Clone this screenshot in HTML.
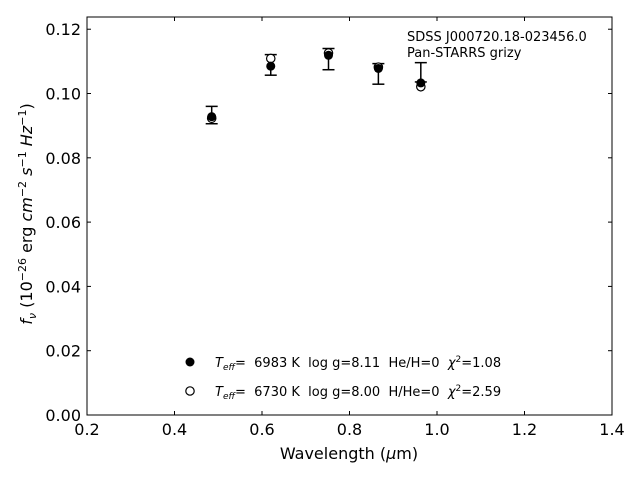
<!DOCTYPE html>
<html><head><meta charset="utf-8"><style>
body{margin:0;background:#fff}
svg text{font-family:"DejaVu Sans","Liberation Sans",sans-serif;fill:#000}
.pre{white-space:pre}
</style></head><body>
<svg id="chart" width="640" height="480" xmlns="http://www.w3.org/2000/svg">
<rect x="87" y="17" width="525" height="398" fill="none" stroke="#000" stroke-width="1"/>
<g id="ticks"></g>
<g id="marks"></g>
<text x="407" y="41" font-size="13">SDSS J000720.18-023456.0</text>
<text x="407" y="57" font-size="13">Pan-STARRS grizy</text>
<text x="349" y="459" font-size="16" text-anchor="middle">Wavelength (<tspan font-style="italic">μ</tspan>m)</text>
<text transform="translate(32,214) rotate(-90)" font-size="16" text-anchor="middle"><tspan font-style="italic">f</tspan><tspan font-style="italic" font-size="11" dy="4">ν</tspan><tspan dy="-4"> (10</tspan><tspan font-size="11" dy="-6">−26</tspan><tspan dy="6"> erg </tspan><tspan font-style="italic">cm</tspan><tspan font-size="11" dy="-6">−2</tspan><tspan dy="6"> </tspan><tspan font-style="italic">s</tspan><tspan font-size="11" dy="-6">−1</tspan><tspan dy="6"> </tspan><tspan font-style="italic">Hz</tspan><tspan font-size="11" dy="-6">−1</tspan><tspan dy="6">)</tspan></text>
<g>
<circle cx="190" cy="362" r="4.5" fill="#000"/>
<text class="pre" x="215" y="367" font-size="13"><tspan font-style="italic">T</tspan><tspan font-style="italic" font-size="9" dy="3">eff</tspan><tspan dy="-3">=  6983 K  log g=8.11  He/H=0  </tspan><tspan font-style="italic">χ</tspan><tspan font-size="9" dy="-5">2</tspan><tspan dy="5">=1.08</tspan></text>
<circle cx="190" cy="391" r="4.2" fill="#fff" stroke="#000" stroke-width="1.2"/>
<text class="pre" x="215" y="396" font-size="13"><tspan font-style="italic">T</tspan><tspan font-style="italic" font-size="9" dy="3">eff</tspan><tspan dy="-3">=  6730 K  log g=8.00  H/He=0  </tspan><tspan font-style="italic">χ</tspan><tspan font-size="9" dy="-5">2</tspan><tspan dy="5">=2.59</tspan></text>
</g>
</svg>
<script>
const wavelengths=[0.485,0.62,0.752,0.866,0.963];
const observed=[0.0933,0.1089,0.1107,0.1061,0.1066];
const obsErr=[0.0027,0.0032,0.0033,0.0032,0.0030];
const modelFilled=[0.0928,0.1085,0.1119,0.1078,0.1033];
const modelOpen=[0.0923,0.1109,0.1126,0.1082,0.1021];
const xTicks=[0.2,0.4,0.6,0.8,1.0,1.2,1.4];
const xTickLabels=["0.2","0.4","0.6","0.8","1.0","1.2","1.4"];
const yTicks=[0,0.02,0.04,0.06,0.08,0.10,0.12];
const yTickLabels=["0.00","0.02","0.04","0.06","0.08","0.10","0.12"];
const X0=87,X1=612,Y0=415,Y1=17,xmin=0.2,xmax=1.4,ymin=0,ymax=0.1238;
const xs=v=>X0+(v-xmin)/(xmax-xmin)*(X1-X0);
const ys=v=>Y0-(v-ymin)/(ymax-ymin)*(Y0-Y1);
const NS='http://www.w3.org/2000/svg';
function mk(tag,attrs,parent){const e=document.createElementNS(NS,tag);for(const k in attrs)e.setAttribute(k,attrs[k]);parent.appendChild(e);return e;}
const tg=document.getElementById('ticks'),mg=document.getElementById('marks');
xTicks.forEach((t,i)=>{const x=xs(t);
 let a=mk('line',{x1:x,x2:x,y1:Y0,y2:Y0-4,stroke:'#000'},tg);
 
 let b=mk('line',{x1:x,x2:x,y1:Y1,y2:Y1+4,stroke:'#000'},tg);
 
 let l=mk('text',{x:x,y:Y0+20,'font-size':16,'text-anchor':'middle'},tg);l.textContent=xTickLabels[i];
 });
yTicks.forEach((t,i)=>{const y=ys(t);
 let a=mk('line',{x1:X0,x2:X0+4,y1:y,y2:y,stroke:'#000'},tg);
 
 let b=mk('line',{x1:X1,x2:X1-4,y1:y,y2:y,stroke:'#000'},tg);
 
 let l=mk('text',{x:X0-6,y:y+6,'font-size':16,'text-anchor':'end'},tg);l.textContent=yTickLabels[i];
 });
wavelengths.forEach((w,i)=>{const x=xs(w);
 const g=mk('g',{},mg);
 
 const yt=ys(observed[i]+obsErr[i]),yb=ys(observed[i]-obsErr[i]);
 mk('line',{x1:x,x2:x,y1:yt,y2:yb,stroke:'#000','stroke-width':1.5},g);
 mk('line',{x1:x-6,x2:x+6,y1:yt,y2:yt,stroke:'#000','stroke-width':1.5},g);
 mk('line',{x1:x-6,x2:x+6,y1:yb,y2:yb,stroke:'#000','stroke-width':1.5},g);
 const o=mk('circle',{cx:x,cy:ys(modelOpen[i]),r:4.2,fill:'#fff',stroke:'#000','stroke-width':1.2},mg);
 
 const f=mk('circle',{cx:x,cy:ys(modelFilled[i]),r:4.5,fill:'#000'},mg);
 });
</script>
</body></html>
